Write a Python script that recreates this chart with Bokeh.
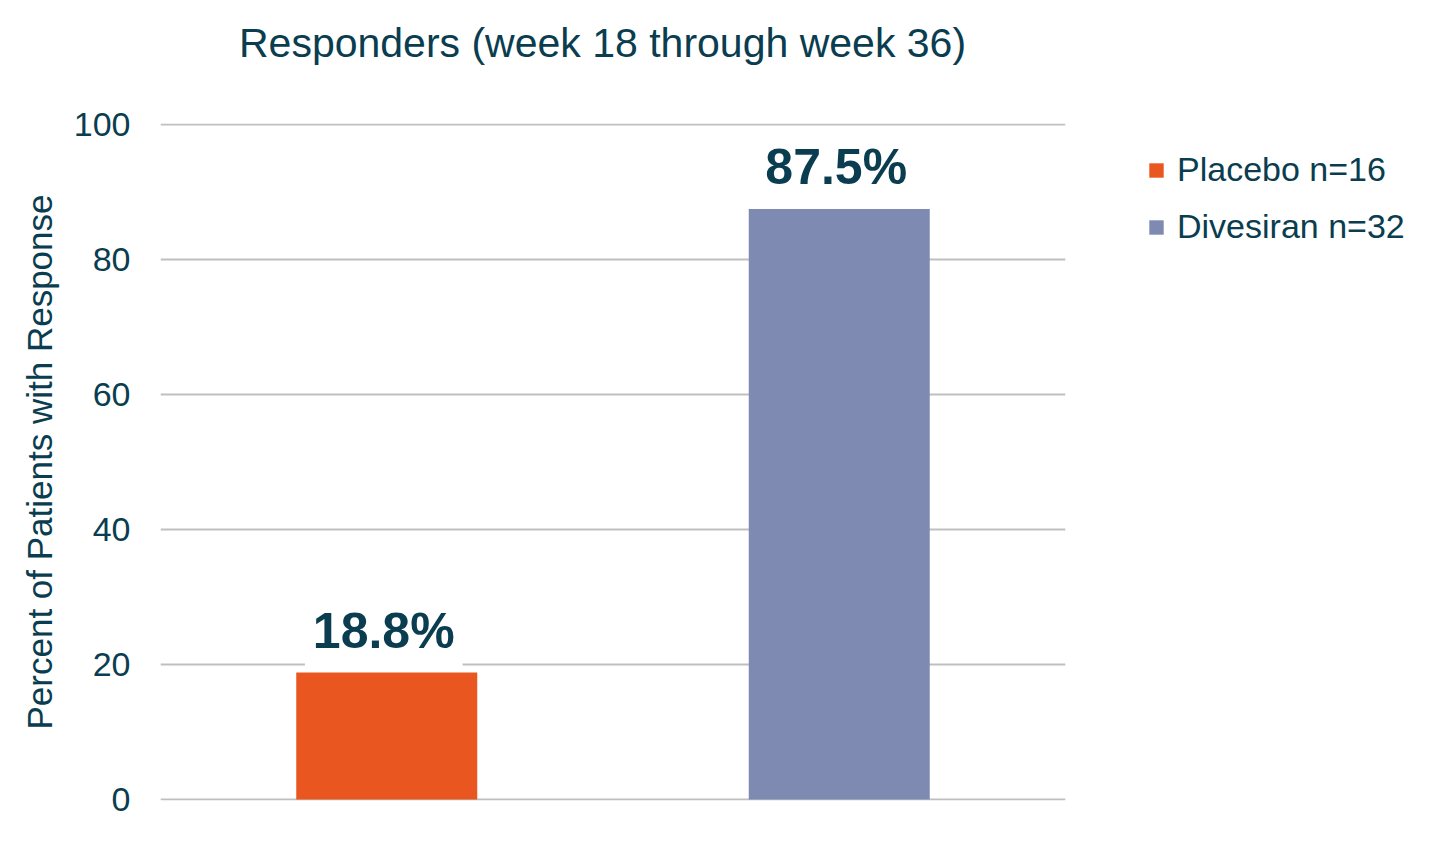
from bokeh.plotting import figure
from bokeh.layouts import row, column
from bokeh.models import ColumnDataSource, FactorRange, Range1d, FixedTicker, Legend, LegendItem, Div
from bokeh.core.properties import value
from bokeh.embed import file_html
from bokeh.resources import INLINE

# ---- data ----
categories = ["Placebo", "Divesiran"]
values = [18.8, 87.5]
legend_labels = ["Placebo n=16", "Divesiran n=32"]
colors = ["#E9561F", "#7F8AB3"]
y_ticks = [0, 20, 40, 60, 80, 100]
title_text = "Responders (week 18 through week 36)"
y_label = "Percent of Patients with Response"

TEXT = "#0A3D4F"
FONT = "Liberation Sans"

source = ColumnDataSource(dict(
    group=categories,
    value=values,
    label=[f"{v:.1f}%" for v in values],
    color=colors,
))

TITLE_H = 70
H = 824 - TITLE_H
TOP, BOTTOM = 123 - TITLE_H, 800 - TITLE_H
MAIN_W = 1075
LEG_W = 331

# title
title = Div(
    text=title_text, width=MAIN_W + LEG_W, height=TITLE_H, margin=0,
    styles={"font-family": FONT, "font-size": "41px", "color": TEXT,
            "line-height": "1", "padding-left": "239px", "padding-top": "23px",
            "white-space": "nowrap", "box-sizing": "border-box"},
)

p = figure(
    x_range=FactorRange(factors=categories),
    y_range=Range1d(-0.15, 100.15),
    width=MAIN_W, height=H,
    output_backend="svg", toolbar_location=None,
    min_border_left=160, min_border_right=MAIN_W - 1065,
    min_border_top=TOP, min_border_bottom=H - BOTTOM,
)
p.outline_line_color = None
p.background_fill_color = "white"
p.border_fill_color = "white"

# value labels (drawn first so the bars sit on top of their white boxes)
p.text(x="group", y="value", text="label", source=source,
       text_align="center", text_baseline="alphabetic", x_offset=-3, y_offset=-42,
       text_font=value(FONT), text_font_size="50px", text_font_style="bold",
       text_color=TEXT, background_fill_color="white", padding=8)

bars = p.vbar(x="group", top="value", width=0.4, fill_color="color", line_color=None,
              source=source)

# axes
p.xaxis.visible = False
p.xgrid.visible = False
p.ygrid.grid_line_color = "#BFBFBF"
p.ygrid.grid_line_width = 2
p.yaxis.ticker = FixedTicker(ticks=y_ticks)
p.yaxis.axis_line_color = None
p.yaxis.major_tick_line_color = None
p.yaxis.minor_tick_line_color = None
p.yaxis.major_tick_out = 0
p.yaxis.major_tick_in = 0
p.yaxis.major_label_standoff = 30
p.yaxis.major_label_text_font = FONT
p.yaxis.major_label_text_font_size = "34px"
p.yaxis.major_label_text_color = TEXT
p.yaxis.axis_label = y_label
p.yaxis.axis_label_text_font = FONT
p.yaxis.axis_label_text_font_size = "35px"
p.yaxis.axis_label_text_font_style = "normal"
p.yaxis.axis_label_text_color = TEXT
p.yaxis.axis_label_standoff = 12

# legend panel (separate figure to the right of the chart)
lf = figure(
    width=LEG_W, height=H, x_range=FactorRange(factors=categories), y_range=Range1d(0, 1),
    output_backend="svg", toolbar_location=None,
    x_axis_location=None, y_axis_location=None,
    min_border_left=72, min_border_right=0,
    min_border_top=TOP, min_border_bottom=H - BOTTOM,
)
lf.outline_line_color = None
lf.grid.visible = False
lf.background_fill_color = "white"
lf.border_fill_color = "white"
swatch = lf.vbar(x="group", top="value", width=0.4, fill_color="color", line_color=None,
                 source=source, visible=False)

items = [LegendItem(label=lab, renderers=[swatch], index=i) for i, lab in enumerate(legend_labels)]
lg = Legend(items=items, location="top_left")
lg.title = " "
lg.title_text_font_size = "12px"
lg.title_standoff = 13
lg.border_line_color = None
lg.background_fill_alpha = 0
lg.padding = 0
lg.margin = 0
lg.glyph_width = 18
lg.glyph_height = 18
lg.label_standoff = 12
lg.spacing = 18
lg.label_text_font = FONT
lg.label_text_font_size = "34px"
lg.label_text_color = TEXT
lf.add_layout(lg)

layout = column(title, row(p, lf, spacing=0), spacing=0)
open("out.html", "w").write(file_html(layout, INLINE))
